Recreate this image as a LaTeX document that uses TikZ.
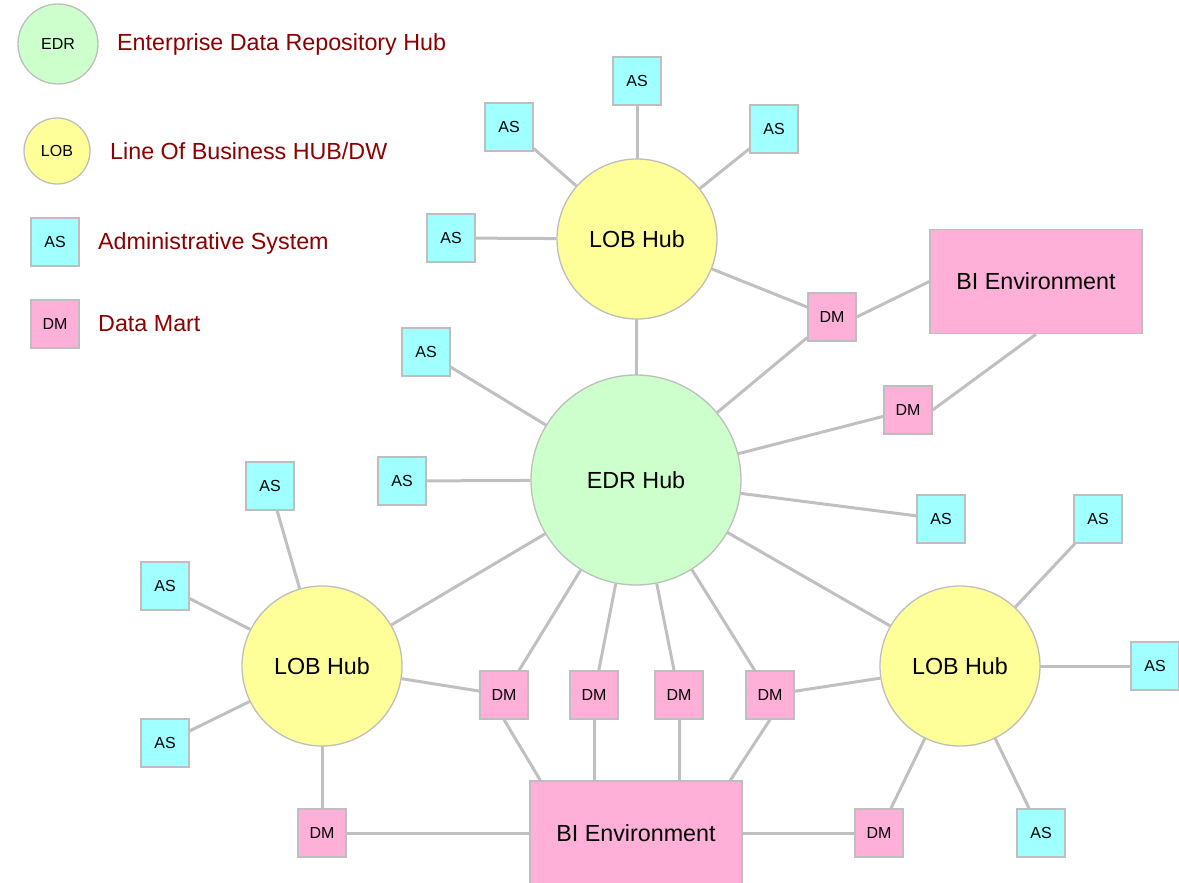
\documentclass[tikz,border=0pt]{standalone}
\usepackage{fontspec}
\setmainfont{Liberation Sans}
\usetikzlibrary{backgrounds}
\definecolor{linegray}{RGB}{192,192,192}
\definecolor{bordergray}{RGB}{190,190,190}
\definecolor{edrgreen}{RGB}{204,255,204}
\definecolor{lobyellow}{RGB}{255,255,153}
\definecolor{ascyan}{RGB}{160,255,255}
\definecolor{dmpink}{RGB}{255,176,216}
\definecolor{legred}{RGB}{139,0,0}
\newcommand\labfont{\fontsize{23.3}{27}\selectfont}
\newcommand\smfont{\fontsize{16}{19}\selectfont}
\begin{document}
\begin{tikzpicture}[x=1pt,y=-1pt,
  conn/.style={draw=linegray, line width=3pt},
  nodebase/.style={draw=bordergray, line width=1.3pt, inner sep=0pt, text=black},
  edrhub/.style={nodebase, circle, fill=edrgreen, minimum size=210pt, font=\labfont},
  lobhub/.style={nodebase, circle, fill=lobyellow, minimum size=160pt, font=\labfont},
  asbox/.style={nodebase, rectangle, fill=ascyan, minimum width=48pt, minimum height=48pt, font=\smfont},
  dmbox/.style={nodebase, rectangle, fill=dmpink, minimum width=48pt, minimum height=48pt, font=\smfont},
  bibox/.style={nodebase, rectangle, fill=dmpink, minimum width=212pt, minimum height=104pt, font=\labfont},
  legtext/.style={anchor=west, inner sep=0pt, text=legred, font=\labfont}]
\useasboundingbox (0,0) rectangle (1179,883);
% legend
\node[nodebase, circle, fill=edrgreen, minimum size=80pt, font=\smfont] (lgedr) at (58,44) {EDR};
\node[nodebase, circle, fill=lobyellow, minimum size=66pt, font=\smfont] (lglob) at (57,151) {LOB};
\node[asbox] (lgas) at (55,242) {AS};
\node[dmbox] (lgdm) at (55,324) {DM};
\node[legtext] (lt1) at (117,44) {Enterprise Data Repository Hub};
\node[legtext] (lt2) at (110,151) {Line Of Business HUB/DW};
\node[legtext] (lt3) at (98,243) {Administrative System};
\node[legtext] (lt4) at (98,324) {Data Mart};
% main nodes
\node[edrhub] (edr) at (636,480) {EDR Hub};
\node[lobhub] (hubT) at (637,239) {LOB Hub};
\node[lobhub] (hubL) at (322,666) {LOB Hub};
\node[lobhub] (hubR) at (960,666) {LOB Hub};
\node[bibox] (biT) at (1036,281.5) {BI Environment};
\node[bibox] (biB) at (636,833) {BI Environment};
\node[asbox] (asT1) at (637,81) {AS};
\node[asbox] (asT2) at (509,127) {AS};
\node[asbox] (asT3) at (774,129) {AS};
\node[asbox] (asT4) at (451,238) {AS};
\node[dmbox] (dmT) at (832,317) {DM};
\node[dmbox] (dmE) at (908,410) {DM};
\node[asbox] (asE1) at (426,352) {AS};
\node[asbox] (asE2) at (402,481) {AS};
\node[asbox] (asE3) at (941,519) {AS};
\node[asbox] (asL1) at (270,486) {AS};
\node[asbox] (asL2) at (165,586) {AS};
\node[asbox] (asL3) at (165,743) {AS};
\node[dmbox] (dmL) at (322,833) {DM};
\node[dmbox] (dm1) at (504,695) {DM};
\node[dmbox] (dm2) at (594,695) {DM};
\node[dmbox] (dm3) at (679,695) {DM};
\node[dmbox] (dm4) at (770,695) {DM};
\node[asbox] (asR1) at (1098,519) {AS};
\node[asbox] (asR2) at (1155,666) {AS};
\node[asbox] (asR3) at (1041,833) {AS};
\node[dmbox] (dmR) at (879,833) {DM};
% connectors
\begin{scope}[on background layer]
\draw[conn] (hubT.center) -- (asT1.center);
\draw[conn] (hubT) -- (asT2);
\draw[conn] (hubT) -- (asT3);
\draw[conn] (hubT) -- (asT4);
\draw[conn] (hubT) -- (dmT);
\draw[conn] (hubT.center) -- (edr.center);
\draw[conn] (dmT.east) -- (biT.west);
\draw[conn] (dmT) -- (edr);
\draw[conn] (dmE.east) -- (biT.south);
\draw[conn] (dmE) -- (edr);
\draw[conn] (edr) -- (asE1);
\draw[conn] (edr) -- (asE2);
\draw[conn] (edr) -- (asE3);
\draw[conn] (edr) -- (hubL);
\draw[conn] (edr) -- (hubR);
\draw[conn] (edr) -- (dm1);
\draw[conn] (edr) -- (dm2);
\draw[conn] (edr) -- (dm3);
\draw[conn] (edr) -- (dm4);
\draw[conn] (dm1.south) -- ([xshift=11pt]biB.north west);
\draw[conn] (dm2.south) -- (dm2.south |- biB.north);
\draw[conn] (dm3.south) -- (dm3.south |- biB.north);
\draw[conn] (dm4.south) -- ([xshift=201pt]biB.north west);
\draw[conn] (hubL) -- (dm1);
\draw[conn] (hubR) -- (dm4);
\draw[conn] (hubL) -- (asL1);
\draw[conn] (hubL) -- (asL2);
\draw[conn] (hubL) -- (asL3);
\draw[conn] (hubL.center) -- (dmL.center);
\draw[conn] (dmL.center) -- (biB.center);
\draw[conn] (hubR) -- (asR1);
\draw[conn] (hubR.center) -- (asR2.center);
\draw[conn] (hubR) -- (asR3);
\draw[conn] (hubR) -- (dmR);
\draw[conn] (biB.center) -- (dmR.center);
\end{scope}
\end{tikzpicture}
\end{document}
